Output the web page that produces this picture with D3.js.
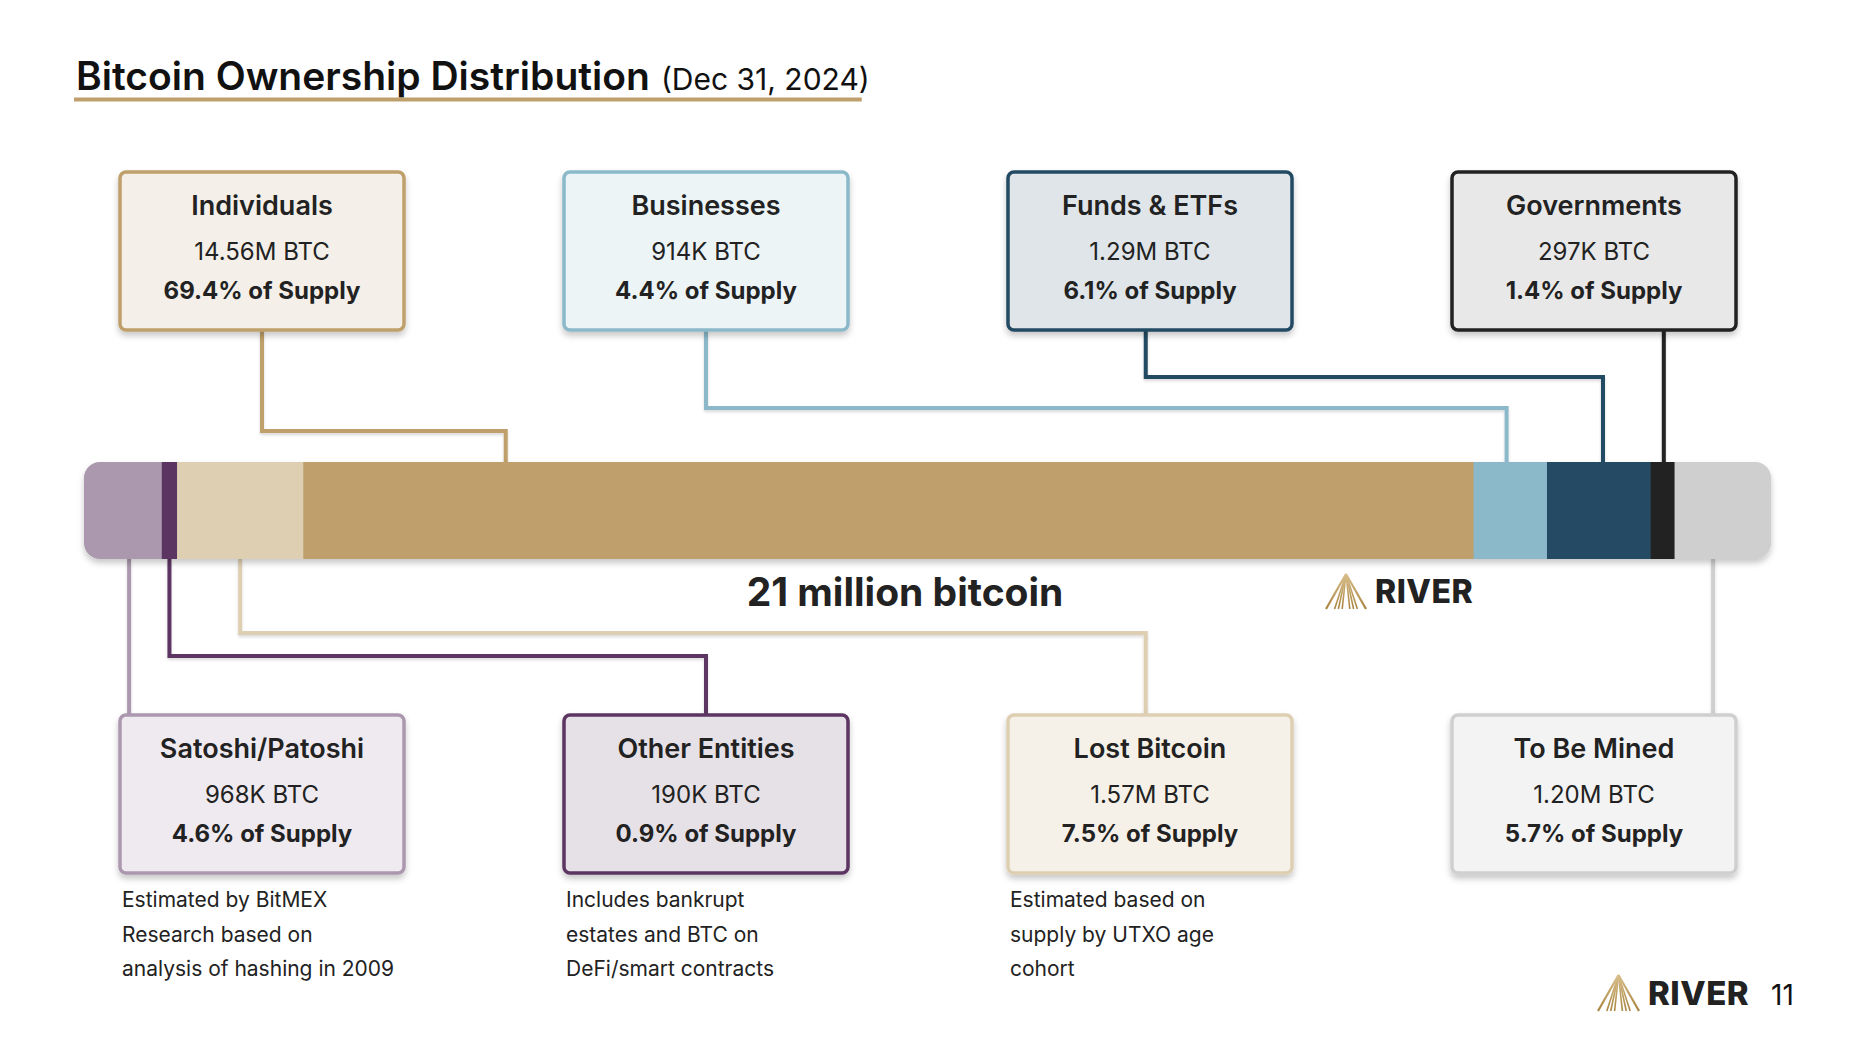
<!DOCTYPE html>
<html><head><meta charset="utf-8">
<script src="https://cdn.jsdelivr.net/npm/d3@7"></script>
<style>
body{margin:0;background:#fff}
svg{display:block}
text{font-family:Inter,"Noto Sans",sans-serif}
</style>
</head><body>
<svg id="chart" width="1874" height="1046"></svg>
<script>
// ---- data ----
const categories = ["Satoshi/Patoshi","Other Entities","Lost Bitcoin","Individuals","Businesses","Funds & ETFs","Governments","To Be Mined"];
const btcMillions = [0.968, 0.190, 1.57, 14.56, 0.914, 1.29, 0.297, 1.20];
const btcLabels = ["968K BTC","190K BTC","1.57M BTC","14.56M BTC","914K BTC","1.29M BTC","297K BTC","1.20M BTC"];
const supplyPct = [4.6, 0.9, 7.5, 69.4, 4.4, 6.1, 1.4, 5.7];
const rowOf = ["bottom","bottom","bottom","top","top","top","top","bottom"];
const columnOf = [0,1,2,0,1,2,3,3];
const notes = [
  ["Estimated by BitMEX","Research based on","analysis of hashing in 2009"],
  ["Includes bankrupt","estates and BTC on","DeFi/smart contracts"],
  ["Estimated based on","supply by UTXO age","cohort"],
  [],[],[],[],[]
];
const titleText = "Bitcoin Ownership Distribution";
const subtitleText = "(Dec 31, 2024)";
const centerLabel = "21 million bitcoin";
const brand = "RIVER";
const pageNumber = "11";

// ---- styles ----
const barColors = ["#ab98ae","#5c3462","#dfcfb2","#bf9f6b","#8bb9ca","#244b63","#222222","#cfcfcf"];
const boxFills  = ["#efeaf0","#e6e1e7","#f6f1e8","#f4f0e9","#ecf4f6","#dfe5e9","#e8e8e8","#f3f3f3"];
const anchorFrac = [0.58, 0.5, 0.5, 0.173, 0.45, 0.54, 0.55, 0.4];
const boxAnchorFrac = [0.5, 0.5, 0.485, 0.5, 0.5, 0.485, 0.5, 0.5];
const elbowY = [null, 656, 633, 431, 408, 377, null, null];

const svg = d3.select("#chart");
const defs = svg.append("defs");
const sh = defs.append("filter").attr("id","shadow").attr("x","-10%").attr("y","-20%").attr("width","120%").attr("height","150%");
sh.append("feDropShadow").attr("dx",0).attr("dy",4).attr("stdDeviation",3).attr("flood-color","#000").attr("flood-opacity",0.22);
const shl = defs.append("filter").attr("id","lshadow").attr("x","-20%").attr("y","-20%").attr("width","140%").attr("height","140%");
shl.append("feDropShadow").attr("dx",0).attr("dy",2).attr("stdDeviation",1.5).attr("flood-color","#000").attr("flood-opacity",0.15);
const grad = defs.append("linearGradient").attr("id","gold").attr("x1",0).attr("y1",0).attr("x2",0).attr("y2",1);
grad.append("stop").attr("offset","0%").attr("stop-color","#d9bf8c");
grad.append("stop").attr("offset","100%").attr("stop-color","#a8843f");

// ---- title ----
const t = svg.append("text").attr("x",76).attr("y",90).attr("fill","#111");
t.append("tspan").attr("font-size",39).attr("font-weight",600).text(titleText);
t.append("tspan").attr("font-size",30).attr("font-weight",400).attr("dx",11).text(subtitleText);
const tw = t.node().getComputedTextLength();
svg.append("rect").attr("x",74).attr("y",97.5).attr("width",tw+5).attr("height",4).attr("fill","#bf9f6b");

// ---- scales ----
const barTop = 462, barH = 97;
const x = d3.scaleLinear().domain([0, d3.sum(btcMillions)]).range([84, 1771]);
const starts = btcMillions.map((v,i)=>d3.sum(btcMillions.slice(0,i)));
const col = d3.scaleLinear().domain([0,3]).range([120, 1452]);
const boxW = 284, boxH = 158;
const rowTop = {top:172, bottom:715};

// ---- connectors ----
const conn = svg.append("g").attr("fill","none").attr("stroke-width",4).attr("filter","url(#lshadow)");
categories.forEach((c,i)=>{
  const bx = x(starts[i] + anchorFrac[i]*btcMillions[i]);
  const cx = col(columnOf[i]) + boxW*boxAnchorFrac[i];
  let d;
  if (rowOf[i]==="top") {
    const y0 = rowTop.top + boxH, y1 = barTop;
    d = elbowY[i]==null ? `M${bx},${y0}V${y1}` : `M${cx},${y0}V${elbowY[i]}H${bx}V${y1}`;
  } else {
    const y0 = barTop + barH, y1 = rowTop.bottom;
    d = elbowY[i]==null ? `M${bx},${y0}V${y1}` : `M${bx},${y0}V${elbowY[i]}H${cx}V${y1}`;
  }
  conn.append("path").attr("d",d).attr("stroke",barColors[i]);
});

// ---- bar ----
defs.append("clipPath").attr("id","barclip").append("rect")
  .attr("x",x.range()[0]).attr("y",barTop).attr("width",x.range()[1]-x.range()[0]).attr("height",barH).attr("rx",16);
svg.append("rect").attr("x",x.range()[0]).attr("y",barTop).attr("width",x.range()[1]-x.range()[0]).attr("height",barH).attr("rx",16)
  .attr("fill","#ddd").attr("filter","url(#shadow)");
svg.append("g").attr("clip-path","url(#barclip)").selectAll("rect").data(btcMillions).join("rect")
  .attr("x",(d,i)=>x(starts[i])).attr("y",barTop).attr("width",(d,i)=>x(starts[i]+d)-x(starts[i])+0.5).attr("height",barH)
  .attr("fill",(d,i)=>barColors[i]);

svg.append("text").attr("x",905).attr("y",606).attr("text-anchor","middle").attr("font-size",39).attr("font-weight",700).attr("fill","#222").text(centerLabel);

// ---- logo ----
function logo(g, ix, iy, iw, ih, tx, ty, fs){
  const apex=[ix+iw/2, iy];
  const lg = g.append("g");
  const n = 9;
  for (let k=0;k<n;k++){
    const f = k/(n-1);
    const bxp = ix + iw*(0.12 + 0.76*f);
    const edge = (k===0||k===n-1);
    lg.append("path").attr("d",`M${apex[0]},${apex[1]}L${edge? (k===0?ix:ix+iw) : bxp},${iy+ih}`)
      .attr("stroke","url(#gold)").attr("stroke-width",edge?2.2:1.6).attr("fill","none");
  }
  g.append("text").attr("x",tx).attr("y",ty).attr("font-size",fs).attr("font-weight",800).attr("fill","#222").attr("letter-spacing",0.5).text(brand);
}
logo(svg, 1326, 574, 40, 35, 1375, 603, 32);
logo(svg, 1598, 975, 41, 36, 1648, 1005, 33);
svg.append("text").attr("x",1771).attr("y",1005).attr("font-size",28).attr("fill","#111").text(pageNumber);

// ---- boxes ----
const boxes = svg.append("g").selectAll("g").data(categories).join("g")
  .attr("transform",(d,i)=>`translate(${col(columnOf[i])},${rowTop[rowOf[i]]})`);
boxes.append("rect").attr("width",boxW).attr("height",boxH).attr("rx",6)
  .attr("fill",(d,i)=>boxFills[i]).attr("stroke",(d,i)=>barColors[i]).attr("stroke-width",3.5).attr("filter","url(#shadow)");
boxes.append("text").attr("x",boxW/2).attr("y",43).attr("text-anchor","middle").attr("font-size",27).attr("font-weight",600).attr("fill","#222").text(d=>d);
boxes.append("text").attr("x",boxW/2).attr("y",88).attr("text-anchor","middle").attr("font-size",24).attr("font-weight",400).attr("fill","#222").text((d,i)=>btcLabels[i]);
boxes.append("text").attr("x",boxW/2).attr("y",127).attr("text-anchor","middle").attr("font-size",24).attr("font-weight",700).attr("fill","#222").text((d,i)=>`${supplyPct[i]}% of Supply`);

// ---- notes ----
categories.forEach((c,i)=>{
  notes[i].forEach((line,j)=>{
    svg.append("text").attr("x",col(columnOf[i])+2).attr("y",907+j*34.5).attr("font-size",21).attr("fill","#222").text(line);
  });
});
</script>
</body></html>
